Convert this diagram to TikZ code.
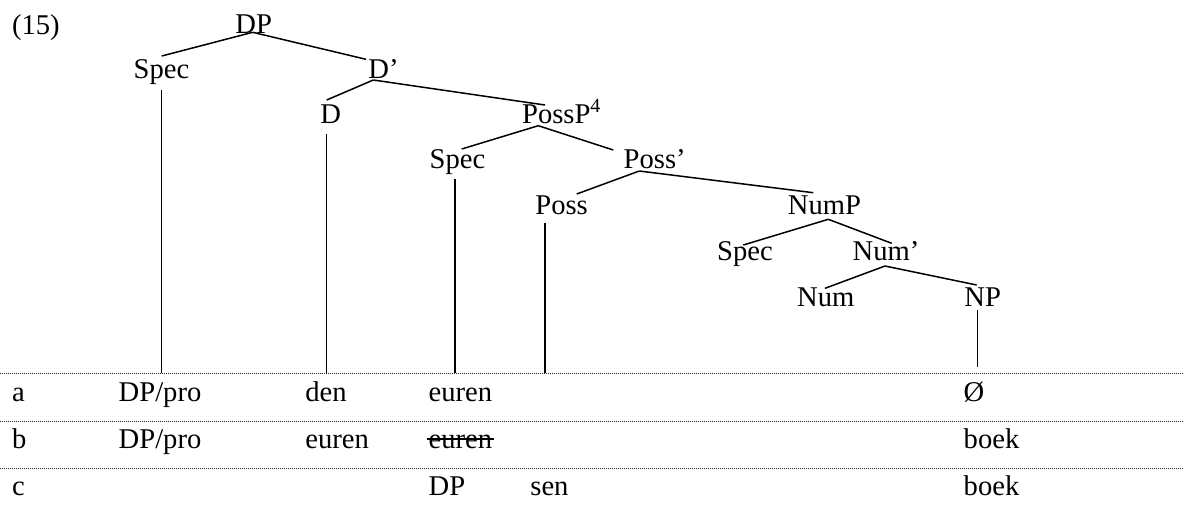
\documentclass[tikz,border=0pt]{standalone}
\usepackage{fontspec}
\setmainfont{Liberation Serif}
\usetikzlibrary{calc}
\tikzset{
  lbl/.style={anchor=base west,inner sep=0pt,font=\fontsize{14.3}{17}\selectfont},
  branch/.style={line width=0.75pt},
  rowrule/.style={line width=0.6pt,black!85,dash pattern=on 0.6pt off 0.4pt}
}
\begin{document}
\begin{tikzpicture}[x=0.5pt,y=-0.5pt]
  \useasboundingbox (0,0) rectangle (1183,510);
  {
  % Marking the example number
  \node[lbl] (exnum) at (11.7,34.4) {(15)};

  % Marking the tree labels
  \node[lbl] (DP) at (235,33.3) {DP};
  \node[lbl] (SpecA) at (133.3,78.3) {Spec};
  \node[lbl] (Dbar) at (368,78.3) {D’};
  \node[lbl] (D) at (320,123.3) {D};
  \node[lbl] (PossP) at (521.7,123.3) {PossP\textsuperscript{4}};
  \node[lbl] (SpecB) at (429.3,168.3) {Spec};
  \node[lbl] (Possbar) at (623.3,168.3) {Poss’};
  \node[lbl] (Poss) at (535,214) {Poss};
  \node[lbl] (NumP) at (787.5,214) {NumP};
  \node[lbl] (SpecC) at (716.7,260) {Spec};
  \node[lbl] (Numbar) at (852.3,260) {Num’};
  \node[lbl] (Num) at (796.7,306) {Num};
  \node[lbl] (NP) at (964,306) {NP};

  % Drawing branches DP SpecA Dbar
  \draw[branch] ($(DP.base west)+(17.7,-1)$) -- ($(SpecA.base west)+(28.4,-22.3)$);
  \draw[branch] ($(DP.base west)+(17.7,-1)$) -- ($(Dbar.base west)+(-2,-19)$);

  % Drawing branches Dbar D PossP
  \draw[branch] ($(Dbar.base west)+(5.3,1.7)$) -- ($(D.base west)+(6.7,-23.3)$);
  \draw[branch] ($(Dbar.base west)+(5.3,1.7)$) -- ($(PossP.base west)+(23.3,-18.3)$);

  % Drawing branches PossP SpecB Possbar
  \draw[branch] ($(PossP.base west)+(16.6,2.4)$) -- ($(SpecB.base west)+(32.4,-19.3)$);
  \draw[branch] ($(PossP.base west)+(16.6,2.4)$) -- ($(Possbar.base west)+(-10,-18.3)$);

  % Drawing branches Possbar Poss NumP
  \draw[branch] ($(Possbar.base west)+(16,2.7)$) -- ($(Poss.base west)+(41.7,-20)$);
  \draw[branch] ($(Possbar.base west)+(16,2.7)$) -- ($(NumP.base west)+(25.8,-21.3)$);

  % Drawing branches NumP SpecC Numbar
  \draw[branch] ($(NumP.base west)+(40.8,5.3)$) -- ($(SpecC.base west)+(26.6,-15)$);
  \draw[branch] ($(NumP.base west)+(40.8,5.3)$) -- ($(Numbar.base west)+(39.4,-16.7)$);

  % Drawing branches Numbar Num NP
  \draw[branch] ($(Numbar.base west)+(32.7,6)$) -- ($(Num.base west)+(28.3,-17.7)$);
  \draw[branch] ($(Numbar.base west)+(32.7,6)$) -- ($(NP.base west)+(12.7,-21)$);

  % Drawing the dotted rules
  \coordinate (ruleA) at (0,373.3);
  \coordinate (ruleB) at (0,421.7);
  \coordinate (ruleC) at (0,468.3);
  \draw[rowrule] (ruleA) -- ++(1183,0);
  \draw[rowrule] (ruleB) -- ++(1183,0);
  \draw[rowrule] (ruleC) -- ++(1183,0);

  % Drawing legs down to the first rule
  \coordinate (legA) at ($(SpecA.base west)+(28.4,11.7)$);
  \coordinate (legD) at ($(D.base west)+(6.7,10.7)$);
  \coordinate (legB) at ($(SpecB.base west)+(25.7,11)$);
  \coordinate (legP) at ($(Poss.base west)+(10,8.7)$);
  \coordinate (legN) at ($(NP.base west)+(13.3,4)$);
  \draw[branch] (legA) -- (legA |- ruleA);
  \draw[branch] (legD) -- (legD |- ruleA);
  \draw[branch] (legB) -- (legB |- ruleA);
  \draw[branch] (legP) -- (legP |- ruleA);
  \draw[branch,shorten >=3.3pt] (legN) -- (legN |- ruleA);

  % Marking row a
  \node[lbl] (ra) at (11.7,401.7) {a};
  \node[lbl] (raspec) at (118.3,401.7) {DP/pro};
  \node[lbl] (rad) at (305,401.7) {den};
  \node[lbl] (raposs) at (428.3,401.7) {euren};
  \node[lbl] (ranp) at (963.3,401.7) {Ø};

  % Marking row b
  \node[lbl] (rb) at (11.7,448.3) {b};
  \node[lbl] (rbspec) at (118.3,448.3) {DP/pro};
  \node[lbl] (rbd) at (305,448.3) {euren};
  \node[lbl] (rbposs) at (428.3,448.3) {euren};
  \node[lbl] (rbnp) at (963.3,448.3) {boek};

  % Striking out the copy
  \draw[branch] ($(rbposs.base west)+(-1,-9.3)$) -- ($(rbposs.base east)+(1.5,-9.3)$);

  % Marking row c
  \node[lbl] (rc) at (11.7,495) {c};
  \node[lbl] (rcspec) at (428.3,495) {DP};
  \node[lbl] (rcposs) at (530,495) {sen};
  \node[lbl] (rcnp) at (963.3,495) {boek};
  }
\end{tikzpicture}
\end{document}
